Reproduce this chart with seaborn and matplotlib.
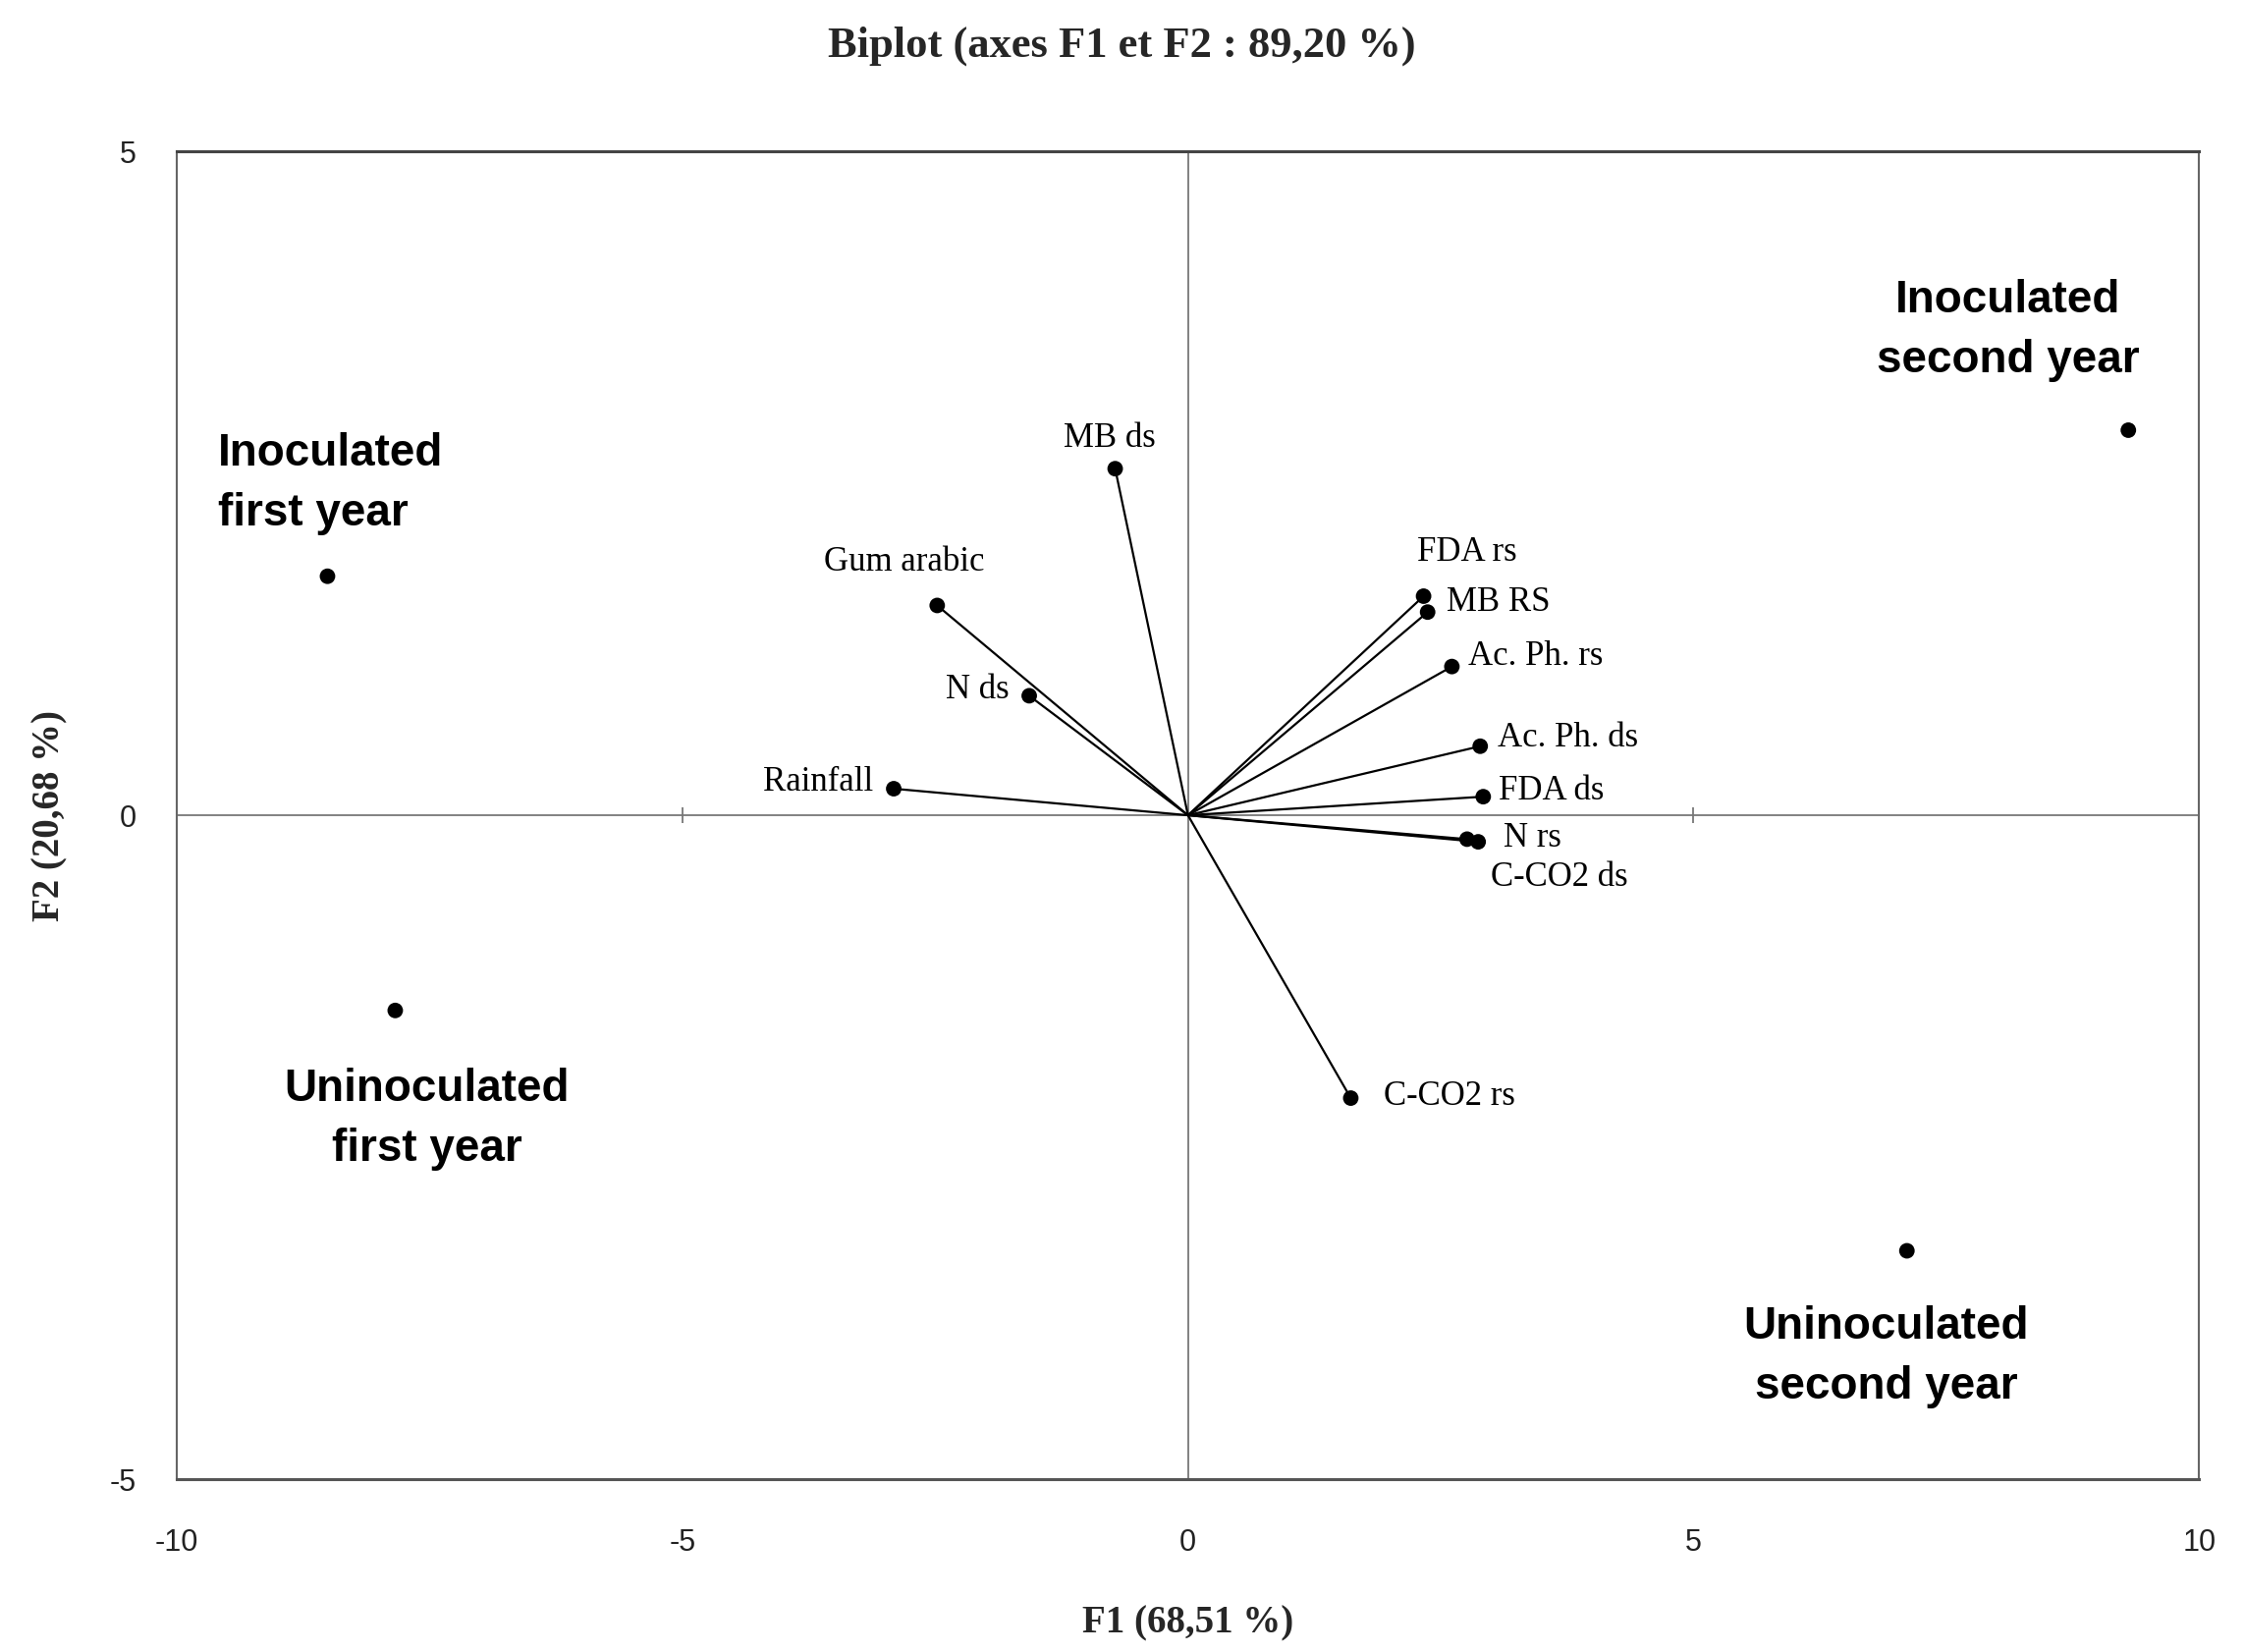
import numpy as np
import pandas as pd
import matplotlib
matplotlib.use('Agg')
import matplotlib.pyplot as plt
import seaborn as sns

sns.set_style("white")
plt.rcParams['font.family'] = ['Liberation Serif', 'DejaVu Serif']

# ── Data ─────────────────────────────────────────────────────
var_names = ["MB ds", "Gum arabic", "N ds", "Rainfall", "FDA rs", "MB RS",
             "Ac. Ph. rs", "Ac. Ph. ds", "FDA ds", "N rs", "C-CO2 ds", "C-CO2 rs"]
var_f1 = [-0.72, -2.48, -1.57, -2.91, 2.33, 2.37, 2.61, 2.89, 2.92, 2.76, 2.87, 1.61]
var_f2 = [2.61, 1.58, 0.90, 0.20, 1.65, 1.53, 1.12, 0.52, 0.14, -0.18, -0.20, -2.13]

obs_names = ["Inoculated\nfirst year", "Uninoculated\nfirst year",
             "Inoculated\nsecond year", "Uninoculated\nsecond year"]
obs_f1 = [-8.51, -7.84, 9.30, 7.11]
obs_f2 = [1.80, -1.47, 2.90, -3.28]

x_ticks = [-10, -5, 0, 5, 10]
y_ticks = [-5, 0, 5]

# label placement (offset in points, alignment)
var_lab = {"MB ds": (-4, 22, "center"), "Gum arabic": (-24, 32, "center"),
           "N ds": (-15, 4, "right"), "Rainfall": (-15, 5, "right"),
           "FDA rs": (-5, 32, "left"), "MB RS": (14, 7, "left"),
           "Ac. Ph. rs": (12, 7, "left"), "Ac. Ph. ds": (13, 6, "left"),
           "FDA ds": (11, 4, "left"), "N rs": (27, 1, "left"),
           "C-CO2 ds": (9, -26, "left"), "C-CO2 rs": (24, 1, "left")}
obs_lab = [(-80, 68, "left"), (23, -80, "center"), (-88, 73, "center"), (-15, -78, "center")]

var_df = pd.DataFrame({"F1": var_f1, "F2": var_f2, "name": var_names})
obs_df = pd.DataFrame({"F1": obs_f1, "F2": obs_f2, "name": obs_names})

fig = plt.figure(figsize=(22.85, 16.82), dpi=100)
ax = fig.add_axes([0.0788, 0.1046, 0.9012, 0.8038])

ax.axhline(0, color="#777777", lw=1.3, zorder=1)
ax.axvline(0, color="#777777", lw=1.3, zorder=1)
# small tick marks on the zero lines
ax.plot([t for t in x_ticks if t not in (-10, 0, 10)], [0, 0], ls="none", marker="|",
        ms=12, mew=1.3, color="#777777", zorder=1)

for _, r in var_df.iterrows():
    ax.plot([0, r["F1"]], [0, r["F2"]], color="black", lw=1.6, zorder=2)
sns.scatterplot(data=var_df, x="F1", y="F2", color="black", s=130, edgecolor="none",
                ax=ax, zorder=3, legend=False)
sns.scatterplot(data=obs_df, x="F1", y="F2", color="black", s=130, edgecolor="none",
                ax=ax, zorder=3, legend=False)

for _, r in var_df.iterrows():
    dx, dy, ha = var_lab[r["name"]]
    ax.annotate(r["name"], (r["F1"], r["F2"]), xytext=(dx, dy), textcoords="offset points",
                ha=ha, va="center", fontsize=25, color="black",
                family=['Liberation Serif', 'DejaVu Serif'])

for (_, r), (dx, dy, ha) in zip(obs_df.iterrows(), obs_lab):
    ax.annotate(r["name"], (r["F1"], r["F2"]), xytext=(dx, dy), textcoords="offset points",
                ha=ha, va="center", multialignment=ha, fontsize=33, fontweight="bold",
                linespacing=1.5, color="black", family=['Liberation Sans', 'DejaVu Sans'])

ax.set_xlim(-10, 10)
ax.set_ylim(-5, 5)
ax.set_xticks(x_ticks)
ax.set_yticks(y_ticks)
ax.set_xticklabels([str(t) for t in x_ticks])
ax.set_yticklabels([str(t) for t in y_ticks])
for lab in ax.get_xticklabels() + ax.get_yticklabels():
    lab.set_family(['Liberation Sans', 'DejaVu Sans'])
    lab.set_fontsize(22)
    lab.set_color("#222222")
ax.tick_params(axis="x", length=0, pad=36)
ax.tick_params(axis="y", length=0, pad=30)
ax.set_xlabel(""); ax.set_ylabel("")
for sp in ax.spines.values():
    sp.set_color("#666666")
    sp.set_linewidth(1.5)
ax.spines["top"].set_linewidth(2.2)
ax.spines["top"].set_color("#444444")
ax.spines["bottom"].set_linewidth(2.2)
ax.spines["bottom"].set_color("#555555")

fig.text(0.5, 0.972, "Biplot (axes F1 et F2 : 89,20 %)", ha="center", va="center",
         fontsize=32, fontweight="bold", family=['Liberation Serif', 'DejaVu Serif'])
fig.text(0.5294, 0.017, "F1 (68,51 %)", ha="center", va="center",
         fontsize=28, fontweight="bold", family=['Liberation Serif', 'DejaVu Serif'])
fig.text(0.0225, 0.5065, "F2 (20,68 %)", ha="center", va="center", rotation=90,
         fontsize=28, fontweight="bold", family=['Liberation Serif', 'DejaVu Serif'])

fig.savefig("out.png", dpi=100)
